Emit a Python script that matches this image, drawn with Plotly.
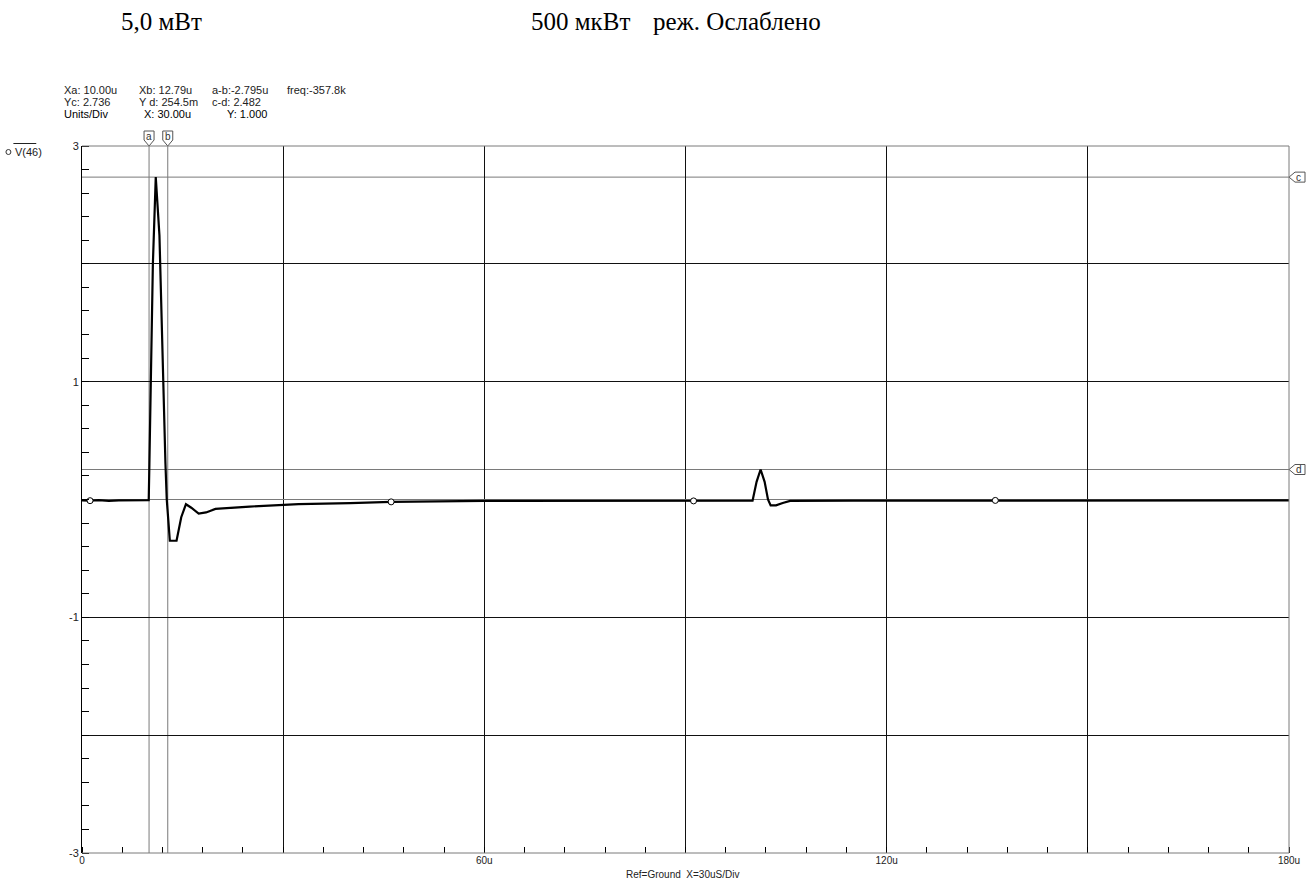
import numpy as np
import plotly.graph_objects as go

# ---------------- data ----------------
t_us = [0, 1.2, 2.5, 4.0, 5.5, 7.0, 8.5, 9.95, 10.05, 10.27, 10.57, 11.0, 11.55,
        12.44, 12.64, 13.1, 14.1, 14.8, 15.5, 16.3, 17.4, 18.5, 19.9, 25.0, 32.3,
        40.0, 46.1, 60.0, 75.0, 91.2, 100.0, 100.6, 101.2, 101.8, 102.3, 102.7,
        103.5, 104.5, 105.6, 115.0, 130.0, 150.0, 180.0]
v46 = [-0.008, -0.01, -0.005, -0.012, -0.008, -0.006, -0.005, -0.005, 0.3, 1.16, 2.0, 2.736, 2.24,
       0.31, 0.0, -0.35, -0.35, -0.15, -0.04, -0.07, -0.12, -0.11, -0.08, -0.06, -0.04,
       -0.03, -0.02, -0.012, -0.012, -0.012, -0.01, 0.15, 0.2545, 0.15, 0.0, -0.05,
       -0.05, -0.03, -0.012, -0.01, -0.008, -0.007, -0.007]

marker_t = [1.2, 46.1, 91.2, 136.2]

cursor_a = 10.00
cursor_b = 12.79
cursor_c = 2.736
cursor_d = 0.2545

x_tickvals = [0, 30, 60, 90, 120, 150, 180]
x_ticktext = ["0", "", "60u", "", "120u", "", "180u"]
y_tickvals = [-3, -2, -1, 0, 1, 2, 3]
y_ticktext = ["-3", "", "-1", "", "1", "", "3"]

header_rows = [
    ["Xa: 10.00u", "Xb: 12.79u", "a-b:-2.795u", "freq:-357.8k"],
    ["Yc: 2.736", "Y d: 254.5m", "c-d: 2.482"],
    ["Units/Div", "X: 30.00u", "Y: 1.000"],
]
title_left = "5,0 мВт"
title_right_1 = "500 мкВт"
title_right_2 = "реж. Ослаблено"
x_title = "Ref=Ground\u00a0 X=30uS/Div"
trace_name = "V(46)"

# ---------------- layout geometry ----------------
W, H = 1312, 882
L, R, T, B = 82, 1296, 146, 853
PW, PH = R - L, B - T


def px(xp):
    return (xp - L) / PW


def py(yp):
    return (B - yp) / PH


fig = go.Figure()

marker_v = list(np.interp(marker_t, t_us, v46))

fig.add_trace(go.Scatter(x=t_us, y=v46, mode="lines",
                         line=dict(color="black", width=2.2),
                         hoverinfo="skip", showlegend=False))
fig.add_trace(go.Scatter(x=marker_t, y=marker_v, mode="markers",
                         marker=dict(symbol="circle", size=6, color="white",
                                     line=dict(color="black", width=1)),
                         hoverinfo="skip", showlegend=False))

shapes = []
gray = "#7a7a7a"
# cursor lines
for xc in (cursor_a, cursor_b):
    shapes.append(dict(type="line", xref="x", yref="y", x0=xc, x1=xc, y0=-3, y1=3,
                       line=dict(color=gray, width=1), layer="below"))
    shapes.append(dict(type="path", xref="x", yref="paper", xsizemode="pixel",
                       ysizemode="pixel", xanchor=xc, yanchor=1,
                       path="M -5,15 L 5,15 L 5,6 L 0,0 L -5,6 Z",
                       line=dict(color="#555", width=1), fillcolor="white",
                       layer="above"))
for yc in (cursor_c, cursor_d):
    shapes.append(dict(type="line", xref="x", yref="y", x0=0, x1=180, y0=yc, y1=yc,
                       line=dict(color=gray, width=1), layer="below"))
    shapes.append(dict(type="path", xref="paper", yref="y", xsizemode="pixel",
                       ysizemode="pixel", xanchor=1, yanchor=yc,
                       path="M 0,0 L 6,5 L 16,5 L 16,-5 L 6,-5 Z",
                       line=dict(color="#555", width=1), fillcolor="white",
                       layer="above"))
# frame (top, right, bottom) in gray
shapes.append(dict(type="line", xref="paper", yref="paper", x0=0, x1=1, y0=1, y1=1,
                   line=dict(color=gray, width=1), layer="above"))
shapes.append(dict(type="line", xref="paper", yref="paper", x0=1, x1=1, y0=0, y1=1,
                   line=dict(color=gray, width=1), layer="above"))
shapes.append(dict(type="line", xref="paper", yref="paper", x0=0, x1=1, y0=0, y1=0,
                   line=dict(color=gray, width=1), layer="above"))
# left trace label: circle + overline
shapes.append(dict(type="circle", xref="paper", yref="paper",
                   x0=px(5.5), x1=px(10.5), y0=py(154.5), y1=py(149.5),
                   line=dict(color="#333", width=1), fillcolor="white"))
shapes.append(dict(type="line", xref="paper", yref="paper",
                   x0=px(13), x1=px(36), y0=py(143.5), y1=py(143.5),
                   line=dict(color="#222", width=1)))

annotations = []
font_sans = "Liberation Sans, Arial, sans-serif"
font_serif = "Liberation Serif, Times New Roman, serif"
col_x = [[62, 137, 211, 286], [62, 137, 211], [62, 142, 226]]
row_y = [90, 102, 114]
for r, row in enumerate(header_rows):
    for c, txt in enumerate(row):
        annotations.append(dict(text=txt, xref="paper", yref="paper",
                                x=px(col_x[r][c]), y=py(row_y[r]),
                                xanchor="left", yanchor="middle", showarrow=False,
                                font=dict(family=font_sans, size=11,
                                          color="black" if r == 2 else "#222")))
annotations.append(dict(text=title_left, xref="paper", yref="paper", x=px(119), y=py(21),
                        xanchor="left", yanchor="middle", showarrow=False,
                        font=dict(family=font_serif, size=25, color="black")))
annotations.append(dict(text=title_right_1, xref="paper", yref="paper", x=px(532), y=py(21),
                        xanchor="left", yanchor="middle", showarrow=False,
                        font=dict(family=font_serif, size=25, color="black")))
annotations.append(dict(text=title_right_2, xref="paper", yref="paper", x=px(654), y=py(21),
                        xanchor="left", yanchor="middle", showarrow=False,
                        font=dict(family=font_serif, size=25, color="black")))
annotations.append(dict(text=x_title, xref="paper", yref="paper", x=px(686), y=py(874),
                        xanchor="center", yanchor="middle", showarrow=False,
                        font=dict(family=font_sans, size=10, color="#222")))
annotations.append(dict(text=trace_name, xref="paper", yref="paper", x=px(13), y=py(152),
                        xanchor="left", yanchor="middle", showarrow=False,
                        font=dict(family=font_sans, size=11, color="#222")))
for lab, xc in (("a", cursor_a), ("b", cursor_b)):
    annotations.append(dict(text=lab, xref="x", yref="paper", x=xc, y=py(137),
                            xanchor="center", yanchor="middle", showarrow=False,
                            font=dict(family=font_sans, size=10, color="#333")))
for lab, yc in (("c", cursor_c), ("d", cursor_d)):
    annotations.append(dict(text=lab, xref="paper", yref="y", x=px(1306), y=yc,
                            xanchor="center", yanchor="middle", showarrow=False,
                            font=dict(family=font_sans, size=10, color="#333")))

fig.update_layout(
    width=W, height=H,
    margin=dict(l=L, r=W - R, t=T, b=H - B, pad=0),
    paper_bgcolor="white", plot_bgcolor="white",
    showlegend=False,
    shapes=shapes, annotations=annotations,
    xaxis=dict(range=[0, 180], tickmode="array", tickvals=x_tickvals, ticktext=x_ticktext,
               showgrid=True, gridcolor="#111", gridwidth=1, zeroline=False,
               showline=False, ticks="",
               tickfont=dict(family=font_sans, size=10, color="#222"),
               minor=dict(tick0=0, dtick=6, ticks="inside", ticklen=6,
                          tickcolor="black", tickwidth=1, showgrid=False),
               fixedrange=True),
    yaxis=dict(range=[-3, 3], tickmode="array", tickvals=y_tickvals, ticktext=y_ticktext,
               showgrid=True, gridcolor="#111", gridwidth=1,
               zeroline=True, zerolinecolor=gray, zerolinewidth=1,
               showline=True, linecolor="black", linewidth=1, ticks="",
               ticklabelstandoff=0,
               tickfont=dict(family=font_sans, size=11, color="#222"),
               minor=dict(tick0=0, dtick=0.2, ticks="inside", ticklen=7,
                          tickcolor="black", tickwidth=1, showgrid=False),
               fixedrange=True),
)

fig.write_html("out.html", config={"displayModeBar": False, "staticPlot": True},
               post_script="document.body.style.margin='0';document.body.style.overflow='hidden';")
